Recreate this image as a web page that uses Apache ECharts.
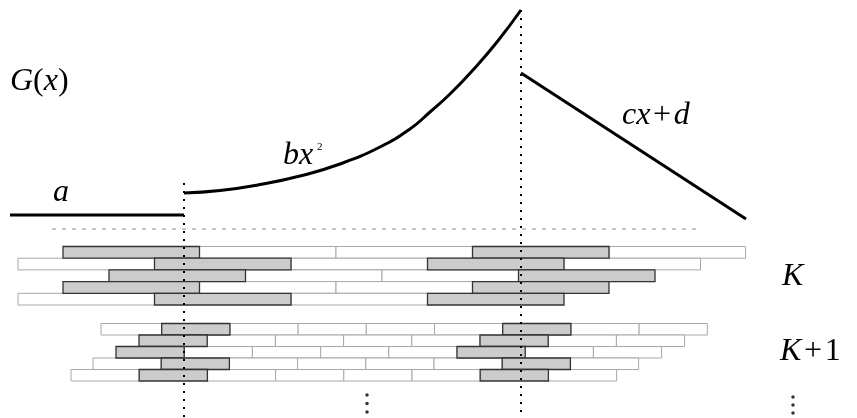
<!DOCTYPE html>
<html>
<head>
<meta charset="utf-8">
<style>
  html, body { margin: 0; padding: 0; background: #fff; }
  #chart { width: 857px; height: 418px; }
</style>
<script src="https://cdn.jsdelivr.net/npm/echarts@6/dist/echarts.min.js"></script>
</head>
<body>
<div id="chart"></div>
<script>
// pieces of G(x) (y runs downwards)
var flatX = [10, 184];
var flatY = [215, 215];
var curveX = [184, 220, 260, 300, 340, 380, 410, 430, 450, 473, 497, 521];
var curveY = [193, 190.5, 184.5, 176, 164, 147, 129, 112, 94, 70, 42, 10];
var lineX = [521, 746];
var lineY = [73, 219];

// where the function changes form
var breakX = [184, 521];
var breakTop = [183, 10];

// bricks of level K: start of each row, then G = shaded, W = plain
var brickK = 136.5;
var rowsKStart = [63, 18, 109, 63, 18];
var rowsKCells = ['GWWGW', 'WGWGW', 'GWWG', 'GWWG', 'WGWG'];

// bricks of level K+1
var brickK1 = 68.2;
var rowsK1Start = [161.7, 139, 116, 93, 71];
var rowsK1Cells = ['GWWWWGWW', 'GWWWWGWW', 'GWWWWGWW', 'WGWWWWGW', 'WGWWWWGW'];
var extraK1Row = [0];
var extraK1Start = [101];

// labels
var labelText = [
  '{i|G}{r|(}{i|x}{r|)}', '{i|a}', '{i|bx}', '{s|2}',
  '{i|cx}{r|\u200A+\u200A}{i|d}', '{i|K}', '{i|K}{r|\u200A+\u200A1}'
];
var labelX = [10, 53, 283, 317, 622, 782, 780];
var labelY = [82, 193, 156, 147, 116, 277, 352];

// vertical ellipses below the bricks
var dotsX = [367, 367, 367, 793, 793, 793];
var dotsY = [395, 403.5, 412, 397, 405, 413];

var rowH = 11.7, topK = 246.5;
var rowH1 = 11.5, topK1 = 323.5;

function zip(xs, ys) {
  return xs.map(function (x, i) { return [x, ys[i]]; });
}

function buildBricks(starts, cells, w, top, h) {
  var plain = [], shaded = [];
  starts.forEach(function (s, r) {
    for (var c = 0; c < cells[r].length; c++) {
      var item = [s + c * w, s + (c + 1) * w, top + r * h, top + (r + 1) * h, cells[r][c] === 'G' ? 1 : 0];
      (item[4] ? shaded : plain).push(item);
    }
  });
  return { plain: plain, shaded: shaded };
}

var bk = buildBricks(rowsKStart, rowsKCells, brickK, topK, rowH);
var bk1 = buildBricks(rowsK1Start, rowsK1Cells, brickK1, topK1, rowH1);
var extra = extraK1Row.map(function (r, i) {
  return [extraK1Start[i], extraK1Start[i] + brickK1, topK1 + r * rowH1, topK1 + (r + 1) * rowH1, 0];
});
var brickData = extra.concat(bk.plain, bk1.plain, bk.shaded, bk1.shaded);

function renderBrick(params, api) {
  var p0 = api.coord([api.value(0), api.value(2)]);
  var p1 = api.coord([api.value(1), api.value(3)]);
  var g = api.value(4) === 1;
  return {
    type: 'rect',
    shape: { x: p0[0], y: p0[1], width: p1[0] - p0[0], height: p1[1] - p0[1] },
    style: {
      fill: g ? '#cccccc' : '#ffffff',
      stroke: g ? '#333333' : '#a8a8a8',
      lineWidth: g ? 1.3 : 1
    }
  };
}

var mathFont = '"Liberation Serif", "DejaVu Serif", serif';
function renderLabel(params, api) {
  var p = api.coord([api.value(0), api.value(1)]);
  return {
    type: 'text',
    x: p[0],
    y: p[1],
    style: {
      text: labelText[params.dataIndex],
      align: 'left',
      verticalAlign: 'middle',
      rich: {
        i: { fontFamily: mathFont, fontStyle: 'italic', fontSize: 32, fill: '#000' },
        r: { fontFamily: mathFont, fontSize: 32, fill: '#000' },
        s: { fontFamily: mathFont, fontSize: 11, fill: '#000' }
      }
    }
  };
}

var myChart = echarts.init(document.getElementById('chart'));
myChart.setOption({
  animation: false,
  backgroundColor: '#fff',
  grid: { left: 0, right: 0, top: 0, bottom: 0 },
  xAxis: { type: 'value', min: 0, max: 857, show: false },
  yAxis: { type: 'value', min: 0, max: 418, inverse: true, show: false },
  series: [
    {
      type: 'custom',
      renderItem: renderBrick,
      data: brickData,
      z: 1
    },
    {
      // dashed reference level
      type: 'line',
      data: [[52, 229], [697, 229]],
      showSymbol: false,
      lineStyle: { color: '#888', width: 1, type: [4, 6] },
      z: 2
    },
    {
      type: 'line',
      data: [[breakX[0], breakTop[0]], [breakX[0], 418]],
      showSymbol: false,
      lineStyle: { color: '#000', width: 2, type: [2, 6] },
      z: 3
    },
    {
      type: 'line',
      data: [[breakX[1], breakTop[1]], [breakX[1], 418]],
      showSymbol: false,
      lineStyle: { color: '#000', width: 2, type: [2, 6] },
      z: 3
    },
    {
      type: 'line',
      data: zip(flatX, flatY),
      showSymbol: false,
      lineStyle: { color: '#000', width: 3 },
      z: 4
    },
    {
      type: 'line',
      data: zip(curveX, curveY),
      smooth: 0.5,
      showSymbol: false,
      lineStyle: { color: '#000', width: 3 },
      z: 4
    },
    {
      type: 'line',
      data: zip(lineX, lineY),
      showSymbol: false,
      lineStyle: { color: '#000', width: 3 },
      z: 4
    },
    {
      type: 'scatter',
      data: zip(dotsX, dotsY),
      symbol: 'circle',
      symbolSize: 3.5,
      itemStyle: { color: '#000' },
      z: 4
    },
    {
      type: 'custom',
      renderItem: renderLabel,
      data: zip(labelX, labelY),
      z: 5
    }
  ]
});
</script>
</body>
</html>
